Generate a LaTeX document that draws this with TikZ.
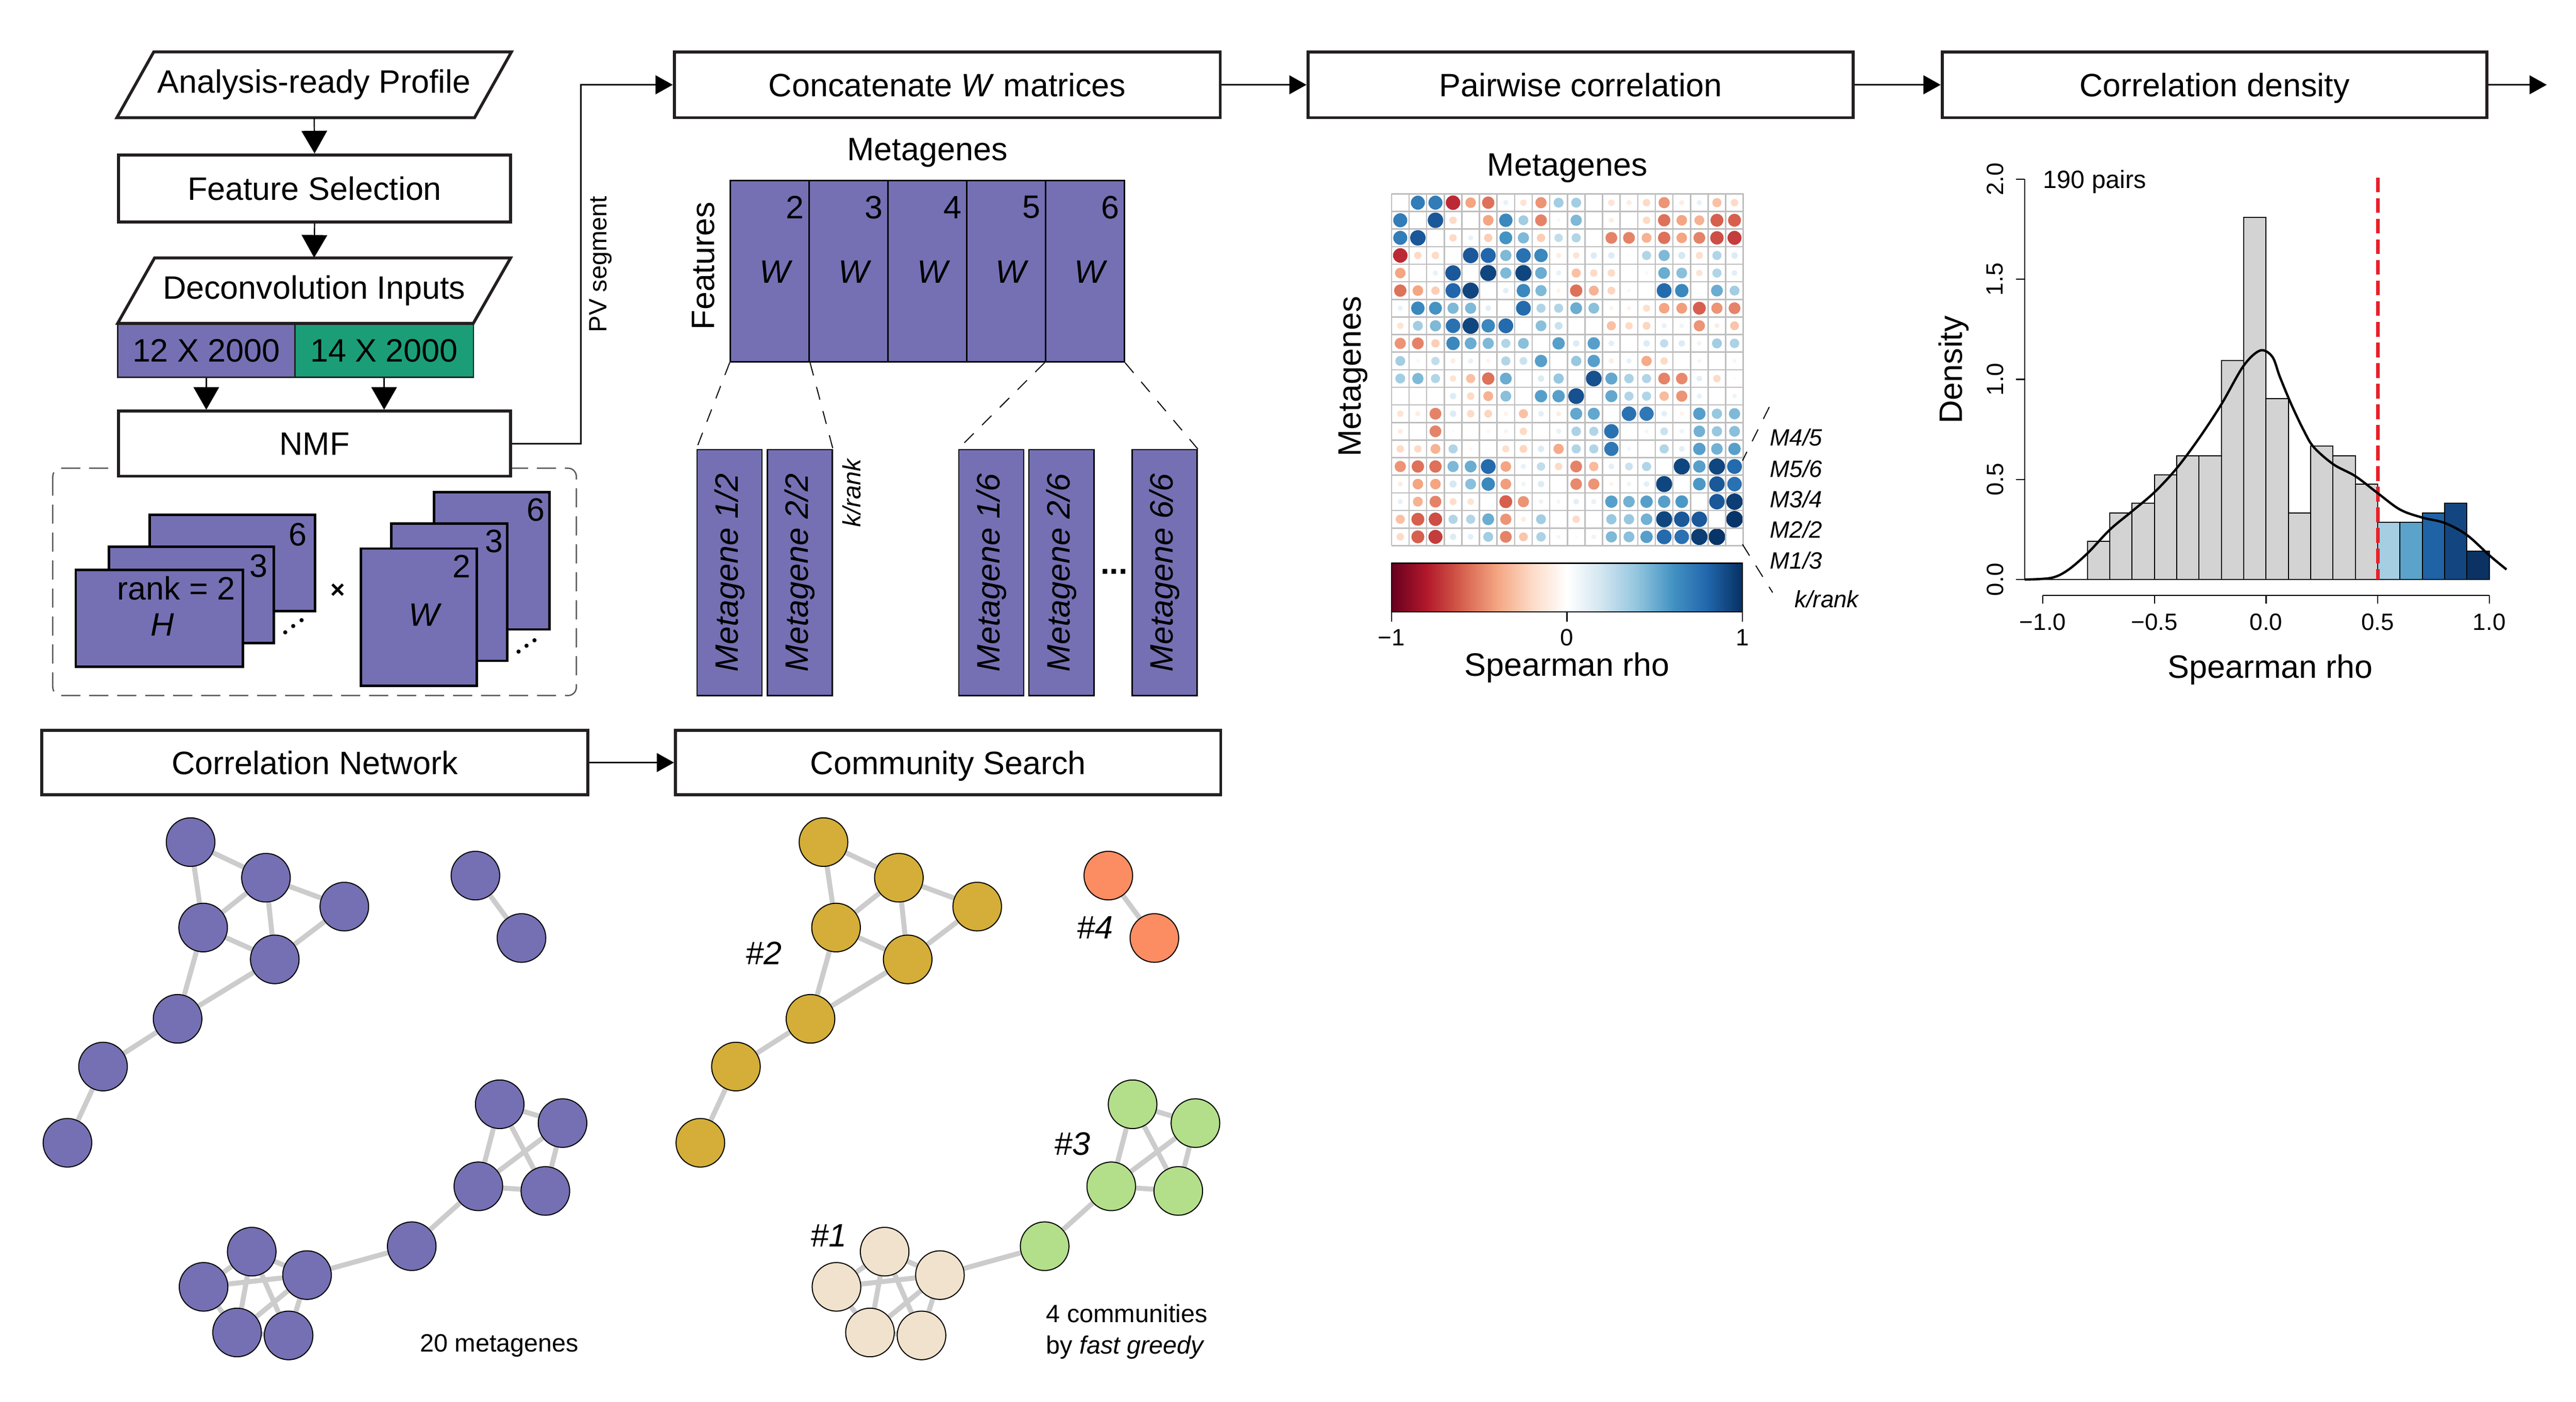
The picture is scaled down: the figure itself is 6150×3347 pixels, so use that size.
\documentclass[tikz,border=0pt]{standalone}
\usepackage{fontspec}
\setmainfont{Liberation Sans}
\usetikzlibrary{arrows.meta,backgrounds}

\definecolor{mpurple}{HTML}{7570B3}
\definecolor{mgreen}{HTML}{1B9E77}
\definecolor{boxc}{HTML}{231F20}
\definecolor{edgec}{HTML}{CCCCCC}
\definecolor{gold}{HTML}{D4AE38}
\definecolor{orng}{HTML}{FC8D62}
\definecolor{lgreen}{HTML}{B3DF8A}
\definecolor{beige}{HTML}{F0E2CC}
\definecolor{gridc}{HTML}{BEBEBE}
\definecolor{barg}{HTML}{D3D3D3}
\definecolor{hba}{HTML}{A6CEE3}
\definecolor{hbb}{HTML}{5BA3CB}
\definecolor{hbc}{HTML}{2062A6}
\definecolor{hbd}{HTML}{134680}
\definecolor{hbe}{HTML}{0B3262}
\definecolor{dred}{HTML}{E8212B}
\definecolor{dashg}{HTML}{595959}
% corrplot RdBu ramp
\definecolor{rb0}{HTML}{67001F}
\definecolor{rb1}{HTML}{B2182B}
\definecolor{rb2}{HTML}{D6604D}
\definecolor{rb3}{HTML}{F4A582}
\definecolor{rb4}{HTML}{FDDBC7}
\definecolor{rb5}{HTML}{FFFFFF}
\definecolor{rb6}{HTML}{D1E5F0}
\definecolor{rb7}{HTML}{92C5DE}
\definecolor{rb8}{HTML}{4393C3}
\definecolor{rb9}{HTML}{2166AC}
\definecolor{rb10}{HTML}{053061}

\newcommand\fbig{\fontsize{22}{26}\selectfont}
\newcommand\fmid{\fontsize{17}{21.3}\selectfont}
\newcommand\fsm{\fontsize{16}{19}\selectfont}

\newcommand\netgraph[2]{%
  \foreach \n/\x/\y/\c in {1/455/2011/2,2/635/2096/2,3/822/2165/2,4/485/2215/2,5/656/2291/2,6/424/2433/2,7/246/2547/2,8/161/2729/2,9/1135/2091/4,10/1245/2240/4,11/1193/2637/3,12/1343/2682/3,13/1142/2833/3,14/1302/2844/3,15/983/2976/3,16/601/2989/1,17/733/3045/1,18/486/3073/1,19/566/3182/1,20/689/3189/1}{%
    \node[netnode, fill=comm\c] (#1\n) at ({\x+#2},\y) {};
  }%
  \begin{scope}[on background layer]
    \foreach \a/\b in {1/2,1/4,2/4,2/3,2/5,4/5,3/5,4/6,5/6,6/7,7/8,9/10,11/12,11/13,11/14,12/13,12/14,13/14,13/15,15/17,16/17,16/18,16/19,16/20,17/18,17/19,17/20,18/19,19/20}{%
      \draw[netedge] (#1\a) -- (#1\b);
    }
  \end{scope}
}

\begin{document}
\begin{tikzpicture}[x=0.01cm,y=-0.01cm,
  every node/.style={inner sep=0pt},
  flow/.style={draw=boxc, line width=2pt, fill=white, font=\fbig, text height=15.8pt, text depth=0pt},
  arr/.style={line width=0.85pt, -{Triangle[length=0.54cm,width=0.61cm]}},
  harr/.style={line width=0.85pt, -{Triangle[length=0.41cm,width=0.45cm]}},
  stackbox/.style={draw=black, line width=1.7pt, fill=mpurple},
  wcol/.style={draw=black, line width=1.1pt, fill=mpurple, minimum width=1.88cm, minimum height=4.33cm},
  mgbox/.style={draw=black, line width=0.9pt, fill=mpurple, minimum width=1.55cm, minimum height=5.87cm},
  dsh/.style={line width=0.7pt, dash pattern=on 9pt off 8pt},
  netnode/.style={circle, draw=black, line width=0.7pt, minimum size=1.16cm},
  netedge/.style={draw=edgec, line width=3.4pt},
  lbl/.style={font=\fbig},
]
\useasboundingbox (0,0) rectangle (6150,3347);

% ---------------- left flow ----------------
\draw[line width=2pt, draw=boxc] (279,281) -- (367,124) -- (1221,124) -- (1133,281) -- cycle;
\node[minimum width=8.54cm, minimum height=1.57cm, font=\fbig] (prof) at (750,202.5) {Analysis-ready Profile};
\node[flow, minimum width=9.36cm, minimum height=1.60cm] (fs) at (751,450) {Feature Selection};
\draw[line width=2pt, draw=boxc] (281,772) -- (369,616) -- (1219,616) -- (1130,772) -- cycle;
\node[minimum width=8.5cm, minimum height=1.56cm, font=\fbig] (dec) at (750,694) {Deconvolution Inputs};
\node[draw=boxc, line width=0.9pt, fill=mpurple, minimum width=4.23cm, minimum height=1.27cm, font=\fbig] (pur) at (492.5,837.5) {12 X 2000};
\node[draw=boxc, line width=0.9pt, fill=mgreen, minimum width=4.26cm, minimum height=1.27cm, font=\fbig] (grn) at (917,837.5) {14 X 2000};
\node[flow, minimum width=9.36cm, minimum height=1.55cm] (nmf) at (751,1059.5) {NMF};

\draw[arr] (prof.south) -- (fs.north);
\draw[arr] (fs.south) -- (dec.north);
\draw[arr] (pur.south) -- (pur.south |- nmf.north);
\draw[arr] (grn.south) -- (grn.south |- nmf.north);

% NMF dashed frame and stacks
\begin{scope}[on background layer]
\draw[dashg, line width=0.9pt, dash pattern=on 13pt off 6pt, rounded corners=0.2cm] (126,1118) rectangle (1376,1661);
\end{scope}
\node[stackbox, minimum width=3.95cm, minimum height=2.30cm] (h6) at (554.5,1344) {};
\node[stackbox, minimum width=3.94cm, minimum height=2.30cm] (h3) at (457,1421) {};
\node[stackbox, minimum width=3.99cm, minimum height=2.31cm] (h2) at (380.5,1476.5) {};
\node[lbl] (h6n) at (711,1276) {6};
\node[lbl] (h3n) at (618,1352) {3};
\node[lbl] (h2n) at (421,1405) {rank = 2};
\node[lbl, font=\fbig\itshape] (hlab) at (388,1492) {H};
\foreach \dx/\dy in {681/1510,700/1495,720/1481,1238/1556,1257/1542,1276/1529}{
  \fill (\dx,\dy) circle[radius=0.05cm];
}
\node[font=\fmid\bfseries] (times) at (806,1411) {×};
\node[stackbox, minimum width=2.76cm, minimum height=3.28cm] (wm6) at (1174,1339) {};
\node[stackbox, minimum width=2.77cm, minimum height=3.28cm] (wm3) at (1072.5,1414) {};
\node[stackbox, minimum width=2.76cm, minimum height=3.28cm] (wm2) at (1000,1474) {};
\node[lbl] (wm6n) at (1279,1217) {6};
\node[lbl] (wm3n) at (1179,1292) {3};
\node[lbl] (wm2n) at (1102,1352) {2};
\node[lbl, font=\fbig\itshape] (wlab) at (1013,1469) {W};

% ---------------- top row boxes ----------------
\node[flow, minimum width=13.03cm, minimum height=1.57cm] (concat) at (2261.5,202.5) {Concatenate \textit{W} matrices};
\node[flow, minimum width=13.01cm, minimum height=1.57cm] (pair) at (3773.5,202.5) {Pairwise correlation};
\node[flow, minimum width=13.00cm, minimum height=1.57cm] (dens) at (5287,202.5) {Correlation density};
\coordinate (outend) at (6080,202.5);
\draw[harr] (nmf.east) -- ++(164,0) |- (concat.west);
\node[rotate=90, font=\fmid] (pvlab) at (1434,631) {PV segment};
\draw[harr] (concat) -- (pair);
\draw[harr] (pair) -- (dens);
\draw[harr] (dens) -- (outend);

% ---------------- W matrices ----------------
\node[lbl] (wtitle) at (2214,365) {Metagenes};
\node[lbl, rotate=90] (feat) at (1679,635) {Features};
\foreach \k [count=\c from 0] in {2,...,6}{
  \node[wcol] (w\k) at ({1838+188*\c},647.5) {};
  \node[lbl] (wn\k) at ({1898+188*\c},495) {\k};
  \node[lbl, font=\fbig\itshape] (ww\k) at ({1850+188*\c},649) {W};
}
\node[mgbox] (m12) at (1741.5,1367.5) {};
\node[mgbox] (m22) at (1909.5,1367.5) {};
\node[mgbox] (m16) at (2366.5,1367.5) {};
\node[mgbox] (m26) at (2534,1367.5) {};
\node[mgbox] (m66) at (2780.5,1367.5) {};
\node[rotate=90, font=\fbig\itshape] (m12t) at (m12) {Metagene 1/2};
\node[rotate=90, font=\fbig\itshape] (m22t) at (m22) {Metagene 2/2};
\node[rotate=90, font=\fbig\itshape] (m16t) at (m16) {Metagene 1/6};
\node[rotate=90, font=\fbig\itshape] (m26t) at (m26) {Metagene 2/6};
\node[rotate=90, font=\fbig\itshape] (m66t) at (m66) {Metagene 6/6};
\node[rotate=90, font=\fmid\itshape] (krank1) at (2033,1177) {k/rank};
\node[font=\fbig\bfseries] (mdots) at (2660,1365) {...};
\draw[dsh] (w2.south west) -- (m12.north west);
\draw[dsh] (w2.south east) -- (m22.north east);
\draw[dsh] (w6.south west) -- (m16.north west);
\draw[dsh] (w6.south east) -- (m66.north east);

% ---------------- correlation matrix ----------------
\node[lbl] (ctitle) at (3742,402) {Metagenes};
\node[lbl, rotate=90] (cside) at (3231,899) {Metagenes};
\foreach \i/\row in {
 1/{0.7,0.7,-0.75,-0.4,-0.55,0.1,-0.15,-0.45,0.35,0.35,0,-0.15,-0.1,-0.2,-0.45,-0.1,0.1,-0.3,-0.2},
 2/{0.85,-0.2,0,-0.4,0.65,0.35,-0.5,0.05,0.45,0,-0.1,0,-0.2,-0.55,-0.4,-0.35,-0.6,-0.6},
 3/{-0.2,0.1,-0.25,0.6,0.45,-0.25,0.25,0.3,0,-0.5,-0.5,-0.35,-0.55,-0.4,-0.5,-0.65,-0.7},
 4/{0.85,0.8,0.45,0.75,0.65,-0.1,-0.15,0.15,0.15,0.03,0.3,0.45,0.18,-0.18,0.3,0.15},
 5/{0.92,0.45,0.92,0.5,0.1,-0.3,-0.2,-0.2,0.02,-0.05,0.5,0.42,-0.15,0.3,0.12},
 6/{0.12,0.65,0.45,-0.07,-0.55,-0.35,-0.22,-0.05,0,0.78,0.65,0.02,0.5,0.35},
 7/{0.78,0.3,0.3,0.5,0.42,-0.07,-0.07,-0.18,-0.4,-0.42,-0.6,-0.45,-0.5},
 8/{0.42,0.22,0.02,0.02,-0.3,-0.2,-0.22,0.1,0.08,-0.45,-0.1,-0.28},
 9/{0.55,0.15,0.55,0.12,0.02,0.15,0.25,0.15,0.08,0.35,0.32},
 10/{0.38,0.55,-0.1,0.1,-0.38,-0.2,0,0.06,0.02,0.06},
 11/{0.88,0.52,0.32,0.3,-0.5,-0.48,0.12,-0.2,-0.03},
 12/{0.52,0.3,0.3,-0.32,-0.45,0.1,-0.02,0.08},
 13/{0.75,0.72,0.12,-0.07,0.55,0.38,0.45},
 14/{0.06,0.22,0.08,0.48,0.38,0.42},
 15/{0.3,0.12,0.55,0.48,0.55},
 16/{0.92,0.55,0.92,0.78},
 17/{0.58,0.85,0.75},
 18/{0.85,0.95},
 19/{0.98}}{
  \foreach \v [count=\c] in \row {
    \pgfmathsetmacro\mav{abs(\v)}
    \ifdim\mav pt>0.025pt\relax
      \pgfmathtruncatemacro\mj{\i+\c}
      \pgfmathsetmacro\mt{min((\v+1)*5,9.999)}
      \pgfmathtruncatemacro\mk{floor(\mt)}
      \pgfmathtruncatemacro\mkk{\mk+1}
      \pgfmathtruncatemacro\mf{round((\mt-\mk)*100)}
      \colorlet{cc}{rb\mkk!\mf!rb\mk}
      \pgfmathsetmacro\mr{0.2*sqrt(\mav)}
      \fill[cc] ({3322+42*(\mj-0.5)},{463+42*(\i-0.5)}) circle[radius=\mr cm];
      \fill[cc] ({3322+42*(\i-0.5)},{463+42*(\mj-0.5)}) circle[radius=\mr cm];
    \fi
  }
}
\foreach \g in {0,...,20}{
  \draw[gridc, line width=0.9pt] ({3322+42*\g},463) -- ++(0,840);
  \draw[gridc, line width=0.9pt] (3322,{463+42*\g}) -- ++(840,0);
}
% colour bar
\foreach \k in {0,...,9}{
  \pgfmathtruncatemacro\kn{\k+1}
  \shade[left color=rb\k, right color=rb\kn] ({3322+83.8*\k},1345) rectangle ({3322+83.8*(\k+1)+1},1461);
}
\draw[line width=0.9pt] (3322,1345) rectangle (4160,1461);
\foreach \xx/\lab [count=\q] in {3322/−1,3741/0,4160/1}{
  \draw[line width=0.8pt] (\xx,1461) -- (\xx,1484);
  \node[font=\fsm] (cb\q) at (\xx,1522) {\lab};
}
\node[lbl] (cbtitle) at (3741,1594) {Spearman rho};
% row labels
\draw[dsh] (4224,972) -- (4160,1100);
\draw[dsh] (4160,1300) -- (4232,1415);
\node[font=\fsm\itshape, anchor=west] (r45) at (4225,1045) {M4/5};
\node[font=\fsm\itshape, anchor=west] (r56) at (4225,1119) {M5/6};
\node[font=\fsm\itshape, anchor=west] (r34) at (4225,1192) {M3/4};
\node[font=\fsm\itshape, anchor=west] (r22) at (4225,1265) {M2/2};
\node[font=\fsm\itshape, anchor=west] (r13) at (4225,1339) {M1/3};
\node[font=\fsm\itshape] (krank2) at (4361,1431) {k/rank};

% ---------------- histogram ----------------
\foreach \lo/\cnt/\col in {-0.8/4/barg,-0.7/7/barg,-0.6/8/barg,-0.5/11/barg,-0.4/13/barg,-0.3/13/barg,-0.2/23/barg,-0.1/38/barg,0.0/19/barg,0.1/7/barg,0.2/14/barg,0.3/13/barg,0.4/10/barg,0.5/6/hba,0.6/6/hbb,0.7/7/hbc,0.8/8/hbd,0.9/3/hbe}{
  \draw[line width=0.7pt, fill=\col] ({5410+533*\lo},1384) rectangle ({5410+533*(\lo+0.1)},{1384-22.762*\cnt});
}
\draw[line width=0.7pt] (4877,1384) -- (4984,1384);
\draw[dred, line width=2.3pt, dash pattern=on 10pt off 4pt] (5677,424) -- (5677,1384);
\draw[line width=1.6pt] plot[smooth, tension=0.55] coordinates {(4834,1384) (4897,1380) (4936,1362) (4984,1321) (5037,1265) (5090,1221) (5143,1176) (5196,1119) (5249,1048) (5303,966) (5356,874) (5396,837) (5425,852) (5443,900) (5470,965) (5500,1028) (5524,1068) (5571,1109) (5623,1137) (5677,1178) (5730,1217) (5783,1236) (5837,1249) (5890,1278) (5943,1326) (5984,1360)};
% axes
\draw[line width=0.8pt] (4834,428) -- (4834,1384);
\foreach \d/\lab [count=\q] in {0/0.0,0.5/0.5,1/1.0,1.5/1.5,2/2.0}{
  \draw[line width=0.8pt] (4834,{1384-478*\d}) -- ++(-21,0);
  \node[rotate=90, font=\fsm] (yl\q) at (4763,{1384-478*\d}) {\lab};
}
\draw[line width=0.8pt] (4877,1422) -- (5943,1422);
\foreach \rr/\lab [count=\q] in {-1/−1.0,-0.5/−0.5,0/0.0,0.5/0.5,1/1.0}{
  \draw[line width=0.8pt] ({5410+533*\rr},1422) -- ++(0,20);
  \node[font=\fsm] (xl\q) at ({5410+533*\rr},1485) {\lab};
}
\node[lbl, rotate=90] (dlab) at (4664,883) {Density};
\node[lbl] (hxlab) at (5420,1599) {Spearman rho};
\node[font=\fmid, anchor=west] (pairs) at (4877,434) {190 pairs};

% ---------------- bottom row ----------------
\node[flow, minimum width=13.03cm, minimum height=1.54cm] (net) at (751.5,1821) {Correlation Network};
\node[flow, minimum width=13.01cm, minimum height=1.54cm] (comm) at (2263.5,1821) {Community Search};
\draw[harr] (net) -- (comm);

\begin{scope}
  \colorlet{comm1}{mpurple}\colorlet{comm2}{mpurple}\colorlet{comm3}{mpurple}\colorlet{comm4}{mpurple}
  \netgraph{A}{0}
\end{scope}
\begin{scope}
  \colorlet{comm1}{beige}\colorlet{comm2}{gold}\colorlet{comm3}{lgreen}\colorlet{comm4}{orng}
  \netgraph{B}{1511}
\end{scope}
\node[font=\fmid] (n20) at (1192,3213) {20 metagenes};
\node[font=\fbig\itshape] (c2lab) at (1823,2276) {\#2};
\node[font=\fbig\itshape] (c4lab) at (2614,2215) {\#4};
\node[font=\fbig\itshape] (c3lab) at (2560,2731) {\#3};
\node[font=\fbig\itshape] (c1lab) at (1979,2950) {\#1};
\node[font=\fmid, align=left, anchor=west] (ncomm) at (2497,3180) {4 communities\\by \textit{fast greedy}};
\end{tikzpicture}
\end{document}
